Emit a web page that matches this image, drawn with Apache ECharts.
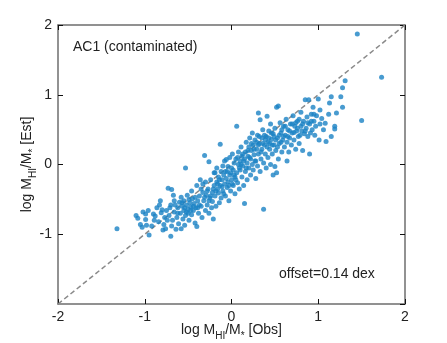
<!DOCTYPE html>
<html>
<head>
<meta charset="utf-8">
<script src="https://cdn.jsdelivr.net/npm/echarts@6/dist/echarts.min.js"></script>
<style>
  html, body { margin: 0; padding: 0; background: #fff; }
  #chart { width: 447px; height: 343px; }
</style>
</head>
<body>
<div id="chart"></div>
<script>
  // axis range / ticks
  const axisMin = -2
  const axisMax = 2
  const tickStep = 1

  // 1:1 reference line
  const oneToOne = [[-2, -2], [2, 2]]

  // [log MHI/M* obs, log MHI/M* est]
  const pointsLow = [
    [-1.32, -0.92],
    [-1.10, -0.73], [-1.08, -0.77], [-1.05, -0.86], [-1.03, -0.90], [-1.02, -0.68], [-0.99, -0.71],
    [-0.99, -0.79], [-0.98, -0.87], [-0.96, -0.66], [-0.95, -1.01], [-0.92, -0.88], [-0.90, -0.71],
    [-0.89, -0.80], [-0.86, -0.62], [-0.84, -0.82], [-0.83, -0.58], [-0.82, -0.52], [-0.81, -0.69],
    [-0.80, -0.65], [-0.79, -0.94], [-0.78, -0.86], [-0.77, -0.76], [-0.76, -0.92], [-0.75, -0.66],
    [-0.73, -0.34], [-0.72, -0.73], [-0.71, -0.62], [-0.70, -1.03], [-0.69, -0.36], [-0.69, -0.88],
    [-0.68, -0.80], [-0.67, -0.44], [-0.66, -0.68], [-0.65, -0.58], [-0.64, -0.93], [-0.63, -0.76],
    [-0.62, -0.62], [-0.61, -0.85], [-0.60, -0.54]
  ]
  const pointsMidLow = [
    [-0.59, -0.70], [-0.58, -0.47], [-0.58, -0.92], [-0.57, -0.60], [-0.56, -0.78], [-0.55, -0.52],
    [-0.55, -0.66], [-0.54, -0.87], [-0.53, -0.05], [-0.53, -0.73], [-0.52, -0.58], [-0.51, -0.44],
    [-0.50, -0.64], [-0.50, -0.70], [-0.49, -0.80], [-0.48, -0.55], [-0.47, -0.61], [-0.46, -0.38],
    [-0.46, -0.72], [-0.45, -0.49], [-0.44, -0.66], [-0.43, -0.56], [-0.42, -0.84], [-0.41, -0.62],
    [-0.40, -0.89], [-0.40, -0.30], [-0.39, -0.52], [-0.38, -0.70], [-0.37, -0.45], [-0.36, -0.22],
    [-0.35, -0.60], [-0.34, -0.76], [-0.33, -0.40], [-0.32, -0.52], [-0.31, 0.13], [-0.30, -0.66],
    [-0.30, -0.25], [-0.29, -0.44], [-0.28, -0.58], [-0.27, -0.35], [-0.26, -0.70], [-0.26, 0.04],
    [-0.25, -0.48], [-0.24, -0.22], [-0.23, -0.62], [-0.22, -0.40], [-0.22, -0.53], [-0.21, -0.78],
    [-0.20, -0.30], [-0.20, -0.12]
  ]
  const pointsMid = [
    [-0.19, -0.12], [-0.19, -0.45], [-0.18, -0.60], [-0.17, -0.25], [-0.17, -0.05], [-0.16, -0.35],
    [-0.15, -0.41], [-0.15, -0.18], [-0.14, -0.55], [-0.13, 0.29], [-0.13, -0.30], [-0.12, -0.10],
    [-0.12, -0.48], [-0.11, -0.22], [-0.10, -0.02], [-0.10, -0.38], [-0.09, -0.15], [-0.08, -0.28],
    [-0.08, 0.05], [-0.07, -0.45], [-0.06, 0.07], [-0.06, -0.20], [-0.05, -0.33], [-0.05, -0.10],
    [-0.04, -0.03], [-0.04, -0.25], [-0.03, -0.52], [-0.02, 0.10], [-0.02, -0.15], [-0.01, -0.38],
    [0.00, -0.05], [0.00, -0.22], [0.01, 0.15], [0.02, -0.30], [0.02, -0.08], [0.03, 0.02],
    [0.04, -0.18], [0.04, -0.42], [0.05, 0.08], [0.06, 0.55], [0.06, -0.12], [0.07, -0.26],
    [0.08, 0.18], [0.08, 0.00], [0.09, -0.35], [0.10, 0.05], [0.10, -0.08], [0.11, 0.25],
    [0.12, -0.18], [0.12, 0.12], [0.13, -0.02], [0.14, -0.30], [0.15, -0.56], [0.15, 0.08],
    [0.16, 0.18], [0.16, -0.10], [0.17, 0.32], [0.18, 0.02], [0.18, -0.22], [0.19, 0.12],
    [0.20, -0.05], [0.20, 0.25]
  ]
  const pointsMidHigh = [
    [0.21, 0.38], [0.22, 0.08], [0.22, -0.15], [0.23, 0.20], [0.24, 0.45], [0.24, 0.00],
    [0.25, 0.28], [0.25, -0.08], [0.26, 0.14], [0.27, 0.35], [0.28, -0.20], [0.28, 0.05],
    [0.29, 0.22], [0.30, 0.42], [0.30, -0.02], [0.31, 0.74], [0.31, 0.15], [0.32, 0.30],
    [0.33, 0.64], [0.33, -0.10], [0.34, 0.08], [0.35, 0.38], [0.35, 0.22], [0.36, 0.50],
    [0.37, -0.64], [0.37, 0.02], [0.38, 0.28], [0.39, 0.15], [0.40, 0.40], [0.40, -0.05],
    [0.41, 0.69], [0.42, 0.32], [0.42, 0.10], [0.43, 0.48], [0.44, 0.22], [0.45, 0.00],
    [0.45, 0.58], [0.46, 0.36], [0.47, 0.15], [0.48, 0.44], [0.48, -0.15], [0.49, 0.28],
    [0.50, -0.03], [0.50, 0.52], [0.51, 0.20], [0.52, 0.82], [0.52, -0.12], [0.53, 0.38],
    [0.54, 0.84], [0.54, 0.08], [0.55, 0.30], [0.56, 0.60], [0.57, 0.45], [0.58, 0.18],
    [0.59, 0.35], [0.60, 0.55]
  ]
  const pointsHigh = [
    [0.61, 0.25], [0.62, 0.42], [0.63, 0.65], [0.64, 0.05], [0.64, 0.32], [0.65, 0.50],
    [0.66, 0.18], [0.67, 0.38], [0.68, 0.58], [0.69, 0.28], [0.70, 0.45], [0.71, 0.70],
    [0.72, 0.35], [0.73, 0.55], [0.74, 0.22], [0.75, 0.48], [0.76, 0.62], [0.77, 0.40],
    [0.78, 0.30], [0.79, 0.42], [0.80, 0.75], [0.80, 0.55], [0.81, 0.48], [0.82, 0.20],
    [0.83, 0.62], [0.84, 0.44], [0.85, 0.93], [0.86, 0.52], [0.87, 0.68], [0.88, 0.40],
    [0.89, 0.93], [0.90, 0.15], [0.90, 0.58], [0.91, 0.45], [0.92, 0.72], [0.93, 0.50],
    [0.94, 0.82], [0.95, 0.62], [0.96, 0.42], [0.97, 0.55], [0.98, 0.70]
  ]
  const pointsTop = [
    [1.00, 0.94], [1.01, 0.35], [1.02, 0.58], [1.02, 0.78], [1.04, 0.66], [1.06, 0.50],
    [1.08, 0.59], [1.09, 0.33], [1.12, 0.72], [1.13, 0.88], [1.15, 0.97], [1.15, 0.40],
    [1.19, 0.55], [1.19, 0.51], [1.21, 0.74], [1.26, 0.97], [1.28, 0.82], [1.28, 1.10],
    [1.31, 1.20], [1.45, 1.87], [1.50, 0.63], [1.73, 1.25]
  ]
  // extra points filling the dense core of the band
  const pointsCore = [
    [-0.88, -0.74], [-0.74, -0.80], [-0.70, -0.58], [-0.66, -0.52], [-0.62, -0.70], [-0.57, -0.55],
    [-0.54, -0.62], [-0.52, -0.68], [-0.49, -0.50], [-0.47, -0.66], [-0.44, -0.60], [-0.42, -0.47],
    [-0.39, -0.62], [-0.37, -0.58], [-0.35, -0.35], [-0.33, -0.28], [-0.31, -0.47], [-0.28, -0.38],
    [-0.26, -0.52], [-0.24, -0.45], [-0.21, -0.35], [-0.18, -0.38], [-0.16, -0.28], [-0.14, -0.22],
    [-0.11, -0.32], [-0.09, -0.42], [-0.07, -0.10], [-0.03, -0.30], [-0.01, -0.12], [0.01, -0.28],
    [0.03, -0.15], [0.05, -0.22], [0.07, 0.10], [0.09, -0.05], [0.11, 0.00], [0.13, 0.15],
    [0.14, 0.05], [0.17, -0.05], [0.19, 0.20], [0.21, 0.10], [0.23, 0.30], [0.26, 0.22],
    [0.27, 0.05], [0.29, 0.32], [0.31, 0.28], [0.32, 0.40], [0.34, 0.18], [0.36, 0.30],
    [0.38, 0.42], [0.39, 0.35], [0.41, 0.25], [0.43, 0.38], [0.44, 0.30], [0.46, 0.45],
    [0.47, 0.28], [0.49, 0.40], [0.51, 0.35], [0.53, 0.25], [0.55, 0.42], [0.57, 0.32],
    [0.58, 0.50], [0.60, 0.40], [0.62, 0.55], [0.65, 0.40], [0.67, 0.48], [0.70, 0.58],
    [0.72, 0.46], [0.74, 0.60], [0.76, 0.52], [0.78, 0.65], [0.82, 0.58], [0.85, 0.48],
    [0.88, 0.60], [0.92, 0.62], [0.95, 0.72]
  ]

  const allPoints = [].concat(pointsLow, pointsMidLow, pointsMid, pointsMidHigh, pointsHigh, pointsTop, pointsCore)

  const font = 'Liberation Sans, Arial, sans-serif'
  const frameColor = '#6e6e6e'
  const dotColor = '#1a82c4'

  const xName = '{n|log M}{s|HI}{n|/M}{s|*}{n| [Obs]}'
  const yName = '{n|log M}{s|HI}{n|/M}{s|*}{n| [Est]}'
  const nameRich = {
    n: { fontSize: 14, fontFamily: font, color: '#222', lineHeight: 22 },
    s: { fontSize: 10, fontFamily: font, color: '#222', lineHeight: 10, verticalAlign: 'bottom' }
  }

  function valueAxis(extra) {
    return Object.assign({
      type: 'value',
      min: axisMin,
      max: axisMax,
      interval: tickStep,
      axisLine: { show: true, onZero: false, lineStyle: { color: frameColor, width: 1.5 } },
      axisTick: { show: true, inside: true, length: 5, lineStyle: { color: '#111', width: 1 } },
      splitLine: { show: false },
      axisLabel: { show: true, fontSize: 14, fontFamily: font, color: '#222', margin: 6 }
    }, extra)
  }

  const myChart = echarts.init(document.getElementById('chart'), null, { renderer: 'canvas' })
  myChart.setOption({
    backgroundColor: '#fff',
    animation: false,
    grid: { left: 58, right: 42, top: 25, bottom: 39, containLabel: false, outerBoundsMode: 'none' },
    xAxis: [
      valueAxis({
        position: 'bottom',
        name: xName,
        nameLocation: 'middle',
        nameGap: 15,
        nameMoveOverlap: false,
        nameTextStyle: { rich: nameRich }
      }),
      valueAxis({ position: 'top', axisLabel: { show: false } })
    ],
    yAxis: [
      valueAxis({
        position: 'left',
        name: yName,
        nameLocation: 'middle',
        nameGap: 20,
        nameRotate: 90,
        nameMoveOverlap: false,
        nameTextStyle: { rich: nameRich },
        axisLabel: { show: true, fontSize: 14, fontFamily: font, color: '#222', margin: 6, showMinLabel: false },
        showMinLabel: false
      }),
      valueAxis({ position: 'right', axisLabel: { show: false } })
    ],
    graphic: [
      {
        type: 'text', left: 73, top: 40,
        style: { text: 'AC1 (contaminated)', fontSize: 14, fontFamily: font, fill: '#222' }
      },
      {
        type: 'text', left: 279, top: 267,
        style: { text: 'offset=0.14 dex', fontSize: 14, fontFamily: font, fill: '#222' }
      }
    ],
    series: [
      {
        type: 'line',
        data: oneToOne,
        symbol: 'none',
        silent: true,
        lineStyle: { color: '#8a8a8a', width: 1.5, type: [5, 3] },
        z: 1
      },
      {
        type: 'scatter',
        data: allPoints,
        symbol: 'circle',
        symbolSize: 5,
        itemStyle: { color: dotColor },
        z: 2
      }
    ]
  })
</script>
</body>
</html>
